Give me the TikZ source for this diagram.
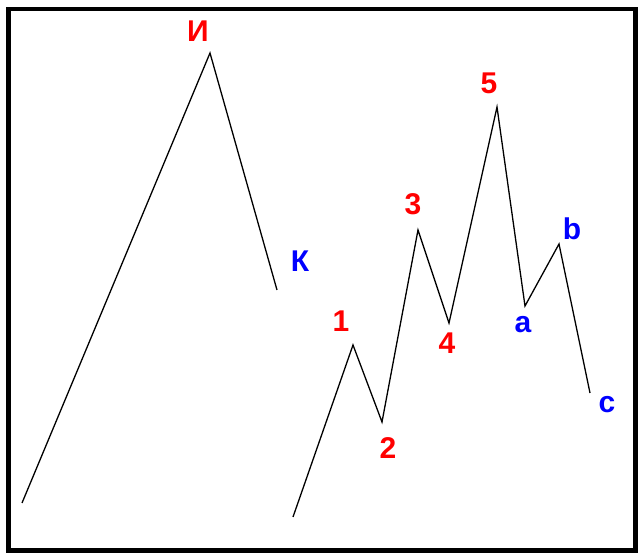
\documentclass[tikz,border=0pt]{standalone}
\usepackage{fontspec}
\setmainfont{Liberation Sans}
\usepackage{tikz}
\usetikzlibrary{positioning}
\definecolor{WaveRed}{HTML}{FF0000}
\definecolor{WaveBlue}{HTML}{0000FF}

\begin{document}
\begin{tikzpicture}[x=1pt,y=-1pt,
  wave/.style={line width=1.3pt,black,line join=miter},
  impulse/.style={inner sep=0pt,text=WaveRed,font=\fontsize{30}{32}\selectfont\bfseries},
  correct/.style={impulse,text=WaveBlue}]
\useasboundingbox (0,0) rectangle (638,553);
\draw[line width=4.5pt] (8.5,9) rectangle (635.5,550.5);

% big wave
\coordinate (s0) at (22,503);
\coordinate (pI) at (210,53);
\coordinate (pK) at (277,290);
\draw[wave] (s0) -- (pI) -- (pK);
\node[impulse] (lI) at (198,31) {И};
\node[correct] (lK) at (300,261) {К};

% small wave
\coordinate (w0) at (293,517);
\coordinate (w1) at (353,345);
\coordinate (w2) at (382,422);
\coordinate (w3) at (418,230);
\coordinate (w4) at (449,323);
\coordinate (w5) at (497,107);
\coordinate (wa) at (525,306);
\coordinate (wb) at (559,244);
\coordinate (wc) at (590,393);
\draw[wave] (w0) -- (w1) -- (w2) -- (w3) -- (w4) -- (w5) -- (wa) -- (wb) -- (wc);
\node[impulse] (l1) at (341,321) {1};
\node[impulse] (l2) at (388,448) {2};
\node[impulse] (l3) at (413,204) {3};
\node[impulse] (l4) at (447,343) {4};
\node[impulse] (l5) at (489,83) {5};
\node[correct] (la) at (523,325) {a};
\node[correct] (lb) at (572,229) {b};
\node[correct] (lc) at (607,405) {c};
\end{tikzpicture}
\end{document}
